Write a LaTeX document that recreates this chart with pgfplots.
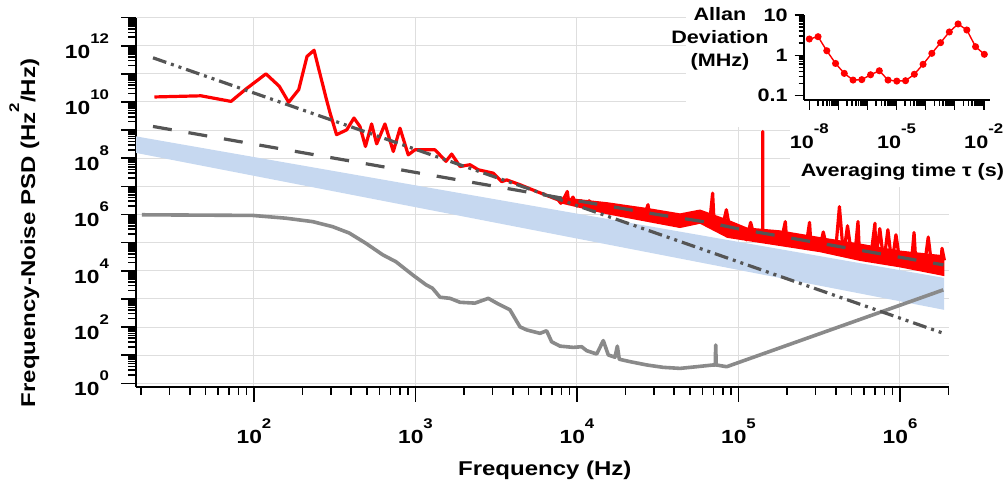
\documentclass[border=0pt]{standalone}
\usepackage{fontspec}
\setmainfont{Liberation Sans}
\usepackage{graphicx}
\usepackage{pgfplots}
\pgfplotsset{compat=1.18}

\definecolor{psdred}{RGB}{255,0,0}
\definecolor{fitgray}{RGB}{85,85,85}
\definecolor{floorgray}{RGB}{138,138,138}
\definecolor{bandblue}{RGB}{198,216,240}
\definecolor{gridgray}{RGB}{222,222,222}

\newcommand{\wide}[1]{\scalebox{1.2}[1]{#1}}
\newcommand{\dec}[1]{\wide{10\raisebox{7.5pt}{\fontsize{7}{7}\selectfont #1}}}

\begin{document}
\begin{tikzpicture}
\useasboundingbox (0,0) rectangle (504pt,244pt);
\begin{axis}[
  at={(68pt,50.5pt)}, anchor=south west,
  scale only axis, width=406.3pt, height=184.7pt,
  xmode=log, ymode=log,
  xmin=18.6, xmax=2e6, ymin=0.741, ymax=1e13,
  axis lines*=left,
  axis line style={line width=1pt},
  tick align=outside,
  tick style={black, line width=0.8pt},
  major tick length=7.5pt, minor tick length=4pt,
  xtick={1e2,1e3,1e4,1e5,1e6},
  xticklabels={\dec{2},\dec{3},\dec{4},\dec{5},\dec{6}},
  minor xtick={20,30,40,50,60,70,80,90,200,300,400,500,600,700,800,900,
    2000,3000,4000,5000,6000,7000,8000,9000,2e4,3e4,4e4,5e4,6e4,7e4,8e4,9e4,
    2e5,3e5,4e5,5e5,6e5,7e5,8e5,9e5,2e6},
  ytick={1e0,1e1,1e2,1e3,1e4,1e5,1e6,1e7,1e8,1e9,1e10,1e11,1e12,1e13},
  yticklabels={\dec{0},,\dec{2},,\dec{4},,\dec{6},,\dec{8},,\dec{10},,\dec{12},},
  minor ytick={},
  grid=major, major grid style={gridgray, line width=0.5pt},
  ticklabel style={font=\fontsize{9.5}{10}\selectfont\bfseries},
  xticklabel style={anchor=north, yshift=-5pt},
  yticklabel style={anchor=east, xshift=-2.5pt},
  every axis plot/.append style={line join=round},
]
% measured laser band
\addplot[fill=bandblue, draw=none] coordinates {
  (18.6,6.0e8) (1.875e6,5.6e3) (1.875e6,4.1e2) (18.6,1.55e8)};
% detection floor
\addplot[floorgray, line width=1.8pt] coordinates {
  (20.2,9.8e5) (98.2,9.3e5) (157.8,7.4e5) (230.7,5.6e5) (306.9,3.7e5)
  (389,2.2e5) (493,9.5e4) (627,3.7e4) (757,2.1e4) (962,7.1e3) (1161,3.2e3)
  (1274,2.4e3) (1419,1.15e3) (1637,1.05e3) (1888,760)
  (2333,710) (2825,1.05e3) (3184,710) (3846,410) (4436,102) (4887,79)
  (5902,60) (6486,74) (6966,30) (7852,21) (9484,19) (10690,20) (11480,14.5)
  (13240,11) (14550,33) (15630,10.2) (17180,8.5) (17780,21) (18280,7.2)
  (21280,5.9) (27040,4.5) (34200,3.7) (43450,3.4) (55080,3.9) (69820,4.5)
  (71800,4.5) (72280,23) (72800,4.5) (84530,3.9) (1.854e6,2.1e3)};
% frequency noise PSD: dense body of the noisy part (upper, then lower edge)
\addplot[fill=psdred, draw=none] coordinates {
  (7852,4.17e6) (1.535e4,2.75e6) (2.831e4,1.66e6) (4.345e4,1.10e6)
  (5.781e4,1.51e6) (8.511e4,6.76e5) (1.130e5,3.47e5) (1.807e5,2.75e5)
  (3.199e5,1.58e5) (5.649e5,9.33e4) (1e6,5.25e4) (1.884e6,3.55e4)
  (1.884e6,6.46e3) (1e6,1.32e4) (5.649e5,2.24e4) (3.199e5,4.57e4)
  (1.807e5,7.59e4) (1.130e5,1.15e5) (8.511e4,1.48e5) (5.781e4,4.68e5)
  (4.345e4,3.31e5) (2.831e4,5.25e5) (1.535e4,1.02e6) (7852,2.51e6)};
% frequency noise PSD
\addplot[psdred, line width=1.6pt] coordinates {
  (24.2,1.51e10) (47.0,1.66e10) (72.1,1.05e10) (89.1,2.88e10) (118.6,1.0e11)
  (143.4,3.63e10) (164.0,9.8e9) (189.2,2.75e10) (213,4.17e11) (235.5,6.9e11)
  (279.5,1.38e10) (296,4.07e9) (324.5,6.9e8) (375,1.02e9) (416,2.69e9)
  (453,1.35e9) (490,2.63e8) (535,1.66e9) (575,3.24e8) (647,1.66e9)
  (729,1.74e8) (802,1.17e9) (902,1.32e8) (993,2.0e8) (1066,2.0e8)
  (1321,2.0e8) (1545,7.8e7) (1675,1.41e8) (1888,5.1e7) (2175,5.9e7)
  (2449,3.9e7) (3034,2.95e7) (3420,1.48e7) (3673,1.7e7) (4436,1.15e7)
  (5623,6.6e6) (7656,3.3e6)
  (7943,2.51e6) (8414,4.37e6) (8710,6.61e6) (8913,2.45e6) (9441,4.17e6)
  (1.0e4,2.0e6) (1.059e4,3.09e6) (1.122e4,1.70e6) (1.189e4,3.09e6)
  (1.259e4,1.74e6) (1.334e4,2.51e6) (1.413e4,1.41e6) (1.496e4,2.45e6)
  (1.585e4,1.15e6) (1.679e4,2.04e6) (1.778e4,1.15e6) (1.884e4,1.95e6)
  (1.995e4,9.55e5) (2.113e4,1.48e6) (2.239e4,8.32e5) (2.371e4,1.51e6)
  (2.512e4,8.51e5) (2.661e4,1.26e6) (2.754e4,2.24e6) (2.818e4,7.08e5)
  (2.985e4,1.26e6) (3.162e4,5.62e5) (3.350e4,1.10e6) (3.548e4,5.62e5)
  (3.758e4,1.05e6) (3.981e4,4.68e5) (4.217e4,7.59e5) (4.467e4,4.17e5)
  (4.732e4,9.33e5) (5.012e4,5.62e5) (5.309e4,1.0e6) (5.623e4,5.89e5)
  (5.957e4,1.15e6) (6.310e4,4.57e5) (6.683e4,8.32e5) (6.918e4,5.75e6)
  (7.079e4,4.07e5) (7.499e4,6.61e5) (7.943e4,3.39e5) (8.414e4,1.48e6)
  (8.913e4,2.34e5) (9.441e4,4.27e5) (1.0e5,1.66e5) (1.059e5,2.82e5)
  (1.122e5,1.26e5) (1.189e5,5.25e5) (1.259e5,1.45e5) (1.334e5,2.51e5)
  (1.413e5,1.20e5) (1.413e5,8.91e8) (1.413e5,1.20e5) (1.496e5,2.63e5)
  (1.585e5,1.02e5) (1.679e5,2.24e5) (1.778e5,1.07e5) (1.884e5,2.19e5)
  (1.95e5,5.62e5) (1.995e5,8.51e4) (2.113e5,1.55e5) (2.239e5,7.41e4)
  (2.371e5,1.70e5) (2.512e5,7.94e4) (2.661e5,1.38e5) (2.754e5,5.25e5)
  (2.818e5,6.61e4) (2.985e5,1.41e5) (3.162e5,5.37e4) (3.350e5,2.40e5)
  (3.548e5,5.50e4) (3.758e5,1.12e5) (3.981e5,4.07e4) (4.217e5,1.91e6)
  (4.467e5,3.47e4) (4.732e5,3.98e5) (5.012e5,3.72e4) (5.309e5,7.08e4)
  (5.495e5,5.62e5) (5.623e5,3.02e4) (5.957e5,7.41e4) (6.310e5,2.40e4)
  (6.683e5,5.89e4) (7.0e5,4.90e5) (7.079e5,2.51e4) (7.499e5,3.16e5)
  (7.943e5,2.04e4) (8.414e5,2.88e5) (8.913e5,1.74e4) (9.441e5,1.91e5)
  (1.0e6,1.91e4) (1.059e6,3.63e4) (1.122e6,1.55e4) (1.189e6,3.80e4)
  (1.222e6,2.29e5) (1.259e6,1.23e4) (1.334e6,3.02e4) (1.413e6,1.32e4)
  (1.496e6,1.58e5) (1.585e6,1.05e4) (1.679e6,2.09e4) (1.778e6,8.91e3)
  (1.82e6,6.31e4) (1.884e6,2.34e4)};
% 1/f^2 guide
\addplot[fitgray, line width=1.6pt,
  dash pattern=on 7pt off 2.5pt on 1.5pt off 2.5pt on 1.5pt off 2.5pt]
  coordinates {(23.7,3.72e11) (1.86e6,60)};
% 1/f fit
\addplot[fitgray, line width=1.6pt, dash pattern=on 9.5pt off 8.5pt]
  coordinates {(23.7,1.35e9) (1e4,3.1e6) (3.16e4,1.0e6) (6.31e4,5.4e5)
  (1e5,3.1e5) (1.86e6,1.62e4)};
\end{axis}

\fill[white] (343pt,180.5pt) rectangle (504pt,244pt);
\fill[white] (395pt,150.5pt) rectangle (504pt,244pt);

\begin{axis}[
  at={(402.15pt,194pt)}, anchor=south west,
  scale only axis, width=92.85pt, height=42.5pt,
  xmode=log, ymode=log,
  xmin=6.73e-9, xmax=1.644e-2, ymin=0.0782, ymax=10,
  axis lines*=left,
  axis line style={line width=1pt},
  tick align=outside,
  tick style={black, line width=0.8pt},
  major tick length=4.8pt,
  xtick={1e-8,1e-7,1e-6,1e-5,1e-4,1e-3,1e-2},
  xticklabels={\dec{-8},,,\dec{-5},,,\dec{-2}},
  minor xtick={}, minor ytick={},
  ytick={0.1,1,10},
  yticklabels={\wide{0.1},\wide{1},\wide{10}},
  ticklabel style={font=\fontsize{9}{10}\selectfont\bfseries},
  xticklabel style={anchor=north, yshift=-3.5pt},
]
\addplot[psdred, line width=0.7pt, mark=*, mark size=1.4pt] coordinates {
  (1e-8,2.54) (2e-8,2.9) (4e-8,1.30) (8e-8,0.63) (1.6e-7,0.357)
  (3.2e-7,0.244) (6.4e-7,0.25) (1.28e-6,0.33) (2.56e-6,0.415)
  (5.12e-6,0.244) (1.024e-5,0.23) (2.048e-5,0.235) (4.096e-5,0.34)
  (8.192e-5,0.60) (1.638e-4,1.12) (3.277e-4,2.06) (6.554e-4,3.8)
  (1.311e-3,6.0) (2.621e-3,4.25) (5.243e-3,1.64) (1.049e-2,1.06)};
\end{axis}

\begin{scope}[every node/.style={font=\fontsize{9}{10}\selectfont\bfseries, anchor=base}]
\node at (360pt,233.5pt) {\wide{Allan}};
\node at (360pt,222pt) {\wide{Deviation}};
\node at (360pt,210.5pt) {\wide{(MHz)}};
\node at (451.25pt,155.6pt) {\wide{Averaging time τ (s)}};
\end{scope}
\node[font=\fontsize{10}{12}\selectfont\bfseries, anchor=base, rotate=90] at (17.6pt,127.5pt)
  {\wide{Frequency-Noise PSD (Hz\raisebox{8pt}{\fontsize{7}{7}\selectfont 2}/Hz)}};
\node[font=\fontsize{10}{12}\selectfont\bfseries, anchor=base] at (272.4pt,6pt)
  {\wide{Frequency (Hz)}};
\end{tikzpicture}
\end{document}
